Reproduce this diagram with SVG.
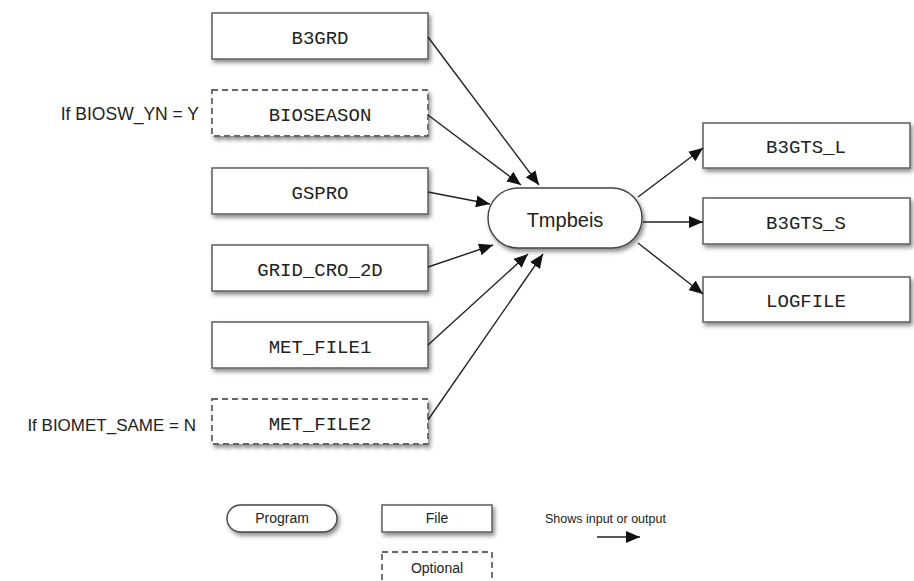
<svg xmlns="http://www.w3.org/2000/svg" width="914" height="581" viewBox="0 0 914 581">
<style>
.box{fill:#fff;stroke:#666;stroke-width:1.6}
.opt{fill:#fff;stroke:#666;stroke-width:1.8;stroke-dasharray:6 4}
.prog{fill:#fff;stroke:#444;stroke-width:1.4}
.mono{font-family:"Liberation Mono","Courier New",monospace;font-size:19px;fill:#222;text-anchor:middle}
.sans{font-family:"Liberation Sans",Arial,sans-serif;fill:#222}
.conn{stroke:#222;stroke-width:1.4;fill:none;marker-end:url(#ah)}
</style>
<defs>
<filter id="sh" x="-10%" y="-20%" width="130%" height="160%">
<feDropShadow dx="2" dy="3" stdDeviation="2" flood-color="#000" flood-opacity="0.45"/>
</filter>
<marker id="ah" markerWidth="14" markerHeight="12" refX="14" refY="6" orient="auto" markerUnits="userSpaceOnUse">
<path d="M0,0 L14,6 L0,12 z" fill="#111"/>
</marker>
</defs>
<rect width="914" height="581" fill="#fff"/>

<g id="B3GRD"><rect class="box" filter="url(#sh)" x="212" y="13" width="216" height="46"/><text class="mono" x="320" y="44">B3GRD</text></g>
<g id="BIOSEASON"><rect class="opt" filter="url(#sh)" x="212" y="90" width="216" height="46"/><text class="mono" x="320" y="121">BIOSEASON</text></g>
<g id="GSPRO"><rect class="box" filter="url(#sh)" x="212" y="168" width="216" height="46"/><text class="mono" x="320" y="199">GSPRO</text></g>
<g id="GRID_CRO_2D"><rect class="box" filter="url(#sh)" x="212" y="245" width="216" height="46"/><text class="mono" x="320" y="276">GRID_CRO_2D</text></g>
<g id="MET_FILE1"><rect class="box" filter="url(#sh)" x="212" y="322" width="216" height="46"/><text class="mono" x="320" y="353">MET_FILE1</text></g>
<g id="MET_FILE2"><rect class="opt" filter="url(#sh)" x="212" y="399" width="216" height="45"/><text class="mono" x="320" y="430">MET_FILE2</text></g>

<g id="label1"><text class="sans" x="199" y="120" font-size="17.5" text-anchor="end">If BIOSW_YN = Y</text></g>
<g id="label2"><text class="sans" x="196" y="431" font-size="17" text-anchor="end">If BIOMET_SAME = N</text></g>

<g id="Tmpbeis"><rect class="prog" filter="url(#sh)" x="488" y="188" width="154" height="60" rx="30" ry="30"/><text class="sans" x="565" y="227" font-size="20" text-anchor="middle">Tmpbeis</text></g>

<g id="B3GTS_L"><rect class="box" filter="url(#sh)" x="703" y="123" width="207" height="45"/><text class="mono" x="806" y="153">B3GTS_L</text></g>
<g id="B3GTS_S"><rect class="box" filter="url(#sh)" x="703" y="198" width="207" height="46"/><text class="mono" x="806" y="229">B3GTS_S</text></g>
<g id="LOGFILE"><rect class="box" filter="url(#sh)" x="703" y="277" width="207" height="45"/><text class="mono" x="806" y="307">LOGFILE</text></g>

<g id="connectors">
<line class="conn" x1="428" y1="37" x2="539" y2="185"/>
<line class="conn" x1="428" y1="115" x2="521" y2="185"/>
<line class="conn" x1="428" y1="192" x2="490" y2="204"/>
<line class="conn" x1="428" y1="267" x2="493" y2="245"/>
<line class="conn" x1="428" y1="345" x2="528" y2="254"/>
<line class="conn" x1="428" y1="420" x2="543" y2="254"/>
<line class="conn" x1="638" y1="197" x2="703" y2="148"/>
<line class="conn" x1="643" y1="222" x2="703" y2="222"/>
<line class="conn" x1="638" y1="243" x2="703" y2="294"/>
</g>

<g id="legend">
<g id="legend-program"><rect class="prog" filter="url(#sh)" x="227" y="505" width="110" height="27" rx="13.5" ry="13.5"/><text class="sans" x="282" y="523" font-size="14" text-anchor="middle">Program</text></g>
<g id="legend-file"><rect class="box" filter="url(#sh)" x="382" y="505" width="110" height="27"/><text class="sans" x="437" y="523" font-size="14" text-anchor="middle">File</text></g>
<g id="legend-optional"><rect class="opt" x="382" y="552" width="110" height="34"/><text class="sans" x="437" y="573" font-size="14" text-anchor="middle">Optional</text></g>
<g id="legend-arrow"><text class="sans" x="545" y="523" font-size="12.5">Shows input or output</text><line class="conn" x1="597" y1="537" x2="640" y2="537"/></g>
</g>
</svg>
